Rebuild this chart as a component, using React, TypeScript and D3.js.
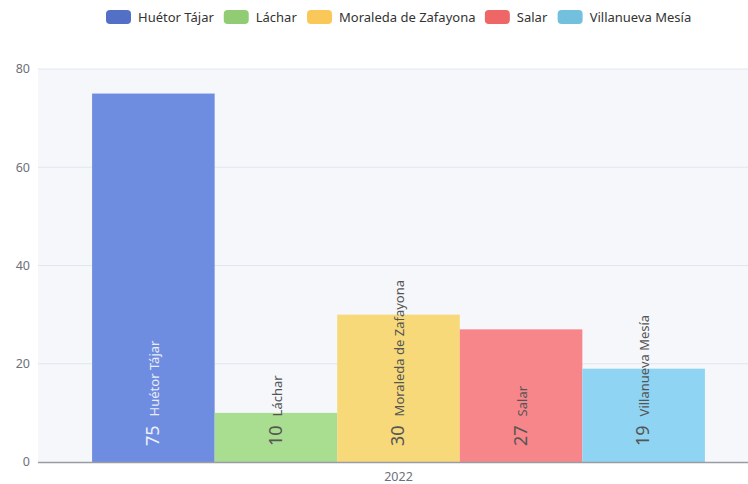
import React, { useEffect, useRef } from "react";
import * as d3 from "d3";

const categories = ["2022"];
const seriesNames = ["Huétor Tájar", "Láchar", "Moraleda de Zafayona", "Salar", "Villanueva Mesía"];
const seriesValues = [75, 10, 30, 27, 19];
const seriesColors = ["#5470c6", "#91cc75", "#fac858", "#ee6666", "#73c0de"];
const barColors = ["#6f8de0", "#a9dd90", "#f7d97a", "#f7868a", "#8fd4f3"];
const yTicks = [0, 20, 40, 60, 80];

const W = 748;
const H = 484;
const FONT = "'Noto Sans', 'DejaVu Sans', sans-serif";

export default function App() {
  const ref = useRef<SVGSVGElement | null>(null);

  useEffect(() => {
    const svg = d3.select(ref.current);
    svg.selectAll("*").remove();

    const left = 38, right = 759, top = 69, bottom = 462;

    const x = d3.scaleBand<string>().domain(categories).range([left, right]).paddingInner(0).paddingOuter(0);
    const y = d3.scaleLinear().domain([0, 80]).range([bottom, top]);

    svg.append("rect").attr("x", left).attr("y", top).attr("width", W - left).attr("height", bottom - top).attr("fill", "#f5f7fb");

    svg.append("g").selectAll("line").data(yTicks.filter(t => t > 0)).join("line")
      .attr("x1", left).attr("x2", W).attr("y1", d => y(d)).attr("y2", d => y(d))
      .attr("stroke", "#e0e6f1").attr("stroke-width", 1);

    svg.append("g").selectAll("text").data(yTicks).join("text")
      .attr("x", 30).attr("y", d => y(d)).attr("dy", "0.35em").attr("text-anchor", "end")
      .attr("font-family", FONT).attr("font-size", 12.5).attr("fill", "#6e7079")
      .text(d => d);

    categories.forEach((cat) => {
      const x0 = x(cat)!;
      const bw = x.bandwidth();
      const inner = d3.scaleBand<string>().domain(seriesNames).range([x0 + bw * 0.075, x0 + bw * 0.925]).padding(0);
      const g = svg.append("g");
      seriesNames.forEach((name, i) => {
        const v = seriesValues[i];
        const bx = inner(name)!;
        const w = inner.bandwidth();
        g.append("rect").attr("x", bx).attr("y", y(v)).attr("width", w).attr("height", y(0) - y(v))
          .attr("fill", barColors[i]);
        const cx = bx + w / 2;
        const light = i === 0;
        const t = g.append("text")
          .attr("transform", `translate(${cx},${y(0) - 16}) rotate(-90)`)
          .attr("dy", "0.35em")
          .attr("font-family", FONT);
        t.append("tspan").attr("font-size", 18).attr("fill", light ? "#eef1fb" : "#555").text(String(v));
        t.append("tspan").attr("dx", 9).attr("font-size", 13).attr("fill", light ? "#e8ecf8" : "#555").text(name);
      });
      svg.append("text").attr("x", x0 + bw / 2).attr("y", 481).attr("text-anchor", "middle")
        .attr("font-family", FONT).attr("font-size", 12.5).attr("fill", "#6e7079").text(cat);
    });

    svg.append("line").attr("x1", left).attr("x2", W).attr("y1", bottom + 0.5).attr("y2", bottom + 0.5)
      .attr("stroke", "#9a9ca3").attr("stroke-width", 1.5);

    const lg = svg.append("g");
    const items = seriesNames.map((name, i) => {
      const it = lg.append("g");
      it.append("rect").attr("x", 0).attr("y", 10).attr("width", 25).attr("height", 14).attr("rx", 4)
        .attr("fill", seriesColors[i]);
      const tx = it.append("text").attr("x", 32).attr("y", 17).attr("dy", "0.35em")
        .attr("font-family", FONT).attr("font-size", 13).attr("fill", "#333").text(name);
      const tw = (tx.node() as SVGTextElement).getComputedTextLength();
      return { it, w: 32 + tw };
    });
    const gap = 11;
    const total = d3.sum(items, d => d.w) + gap * (items.length - 1);
    let cur = 106;
    const scaleAdj = (690 - 106) / total;
    items.forEach(d => {
      d.it.attr("transform", `translate(${cur},0)`);
      cur += (d.w + gap) * scaleAdj;
    });
  }, []);

  return (
    <svg ref={ref} width={W} height={H} style={{ position: "absolute", left: 0, top: 0, background: "#fff" }} />
  );
}
